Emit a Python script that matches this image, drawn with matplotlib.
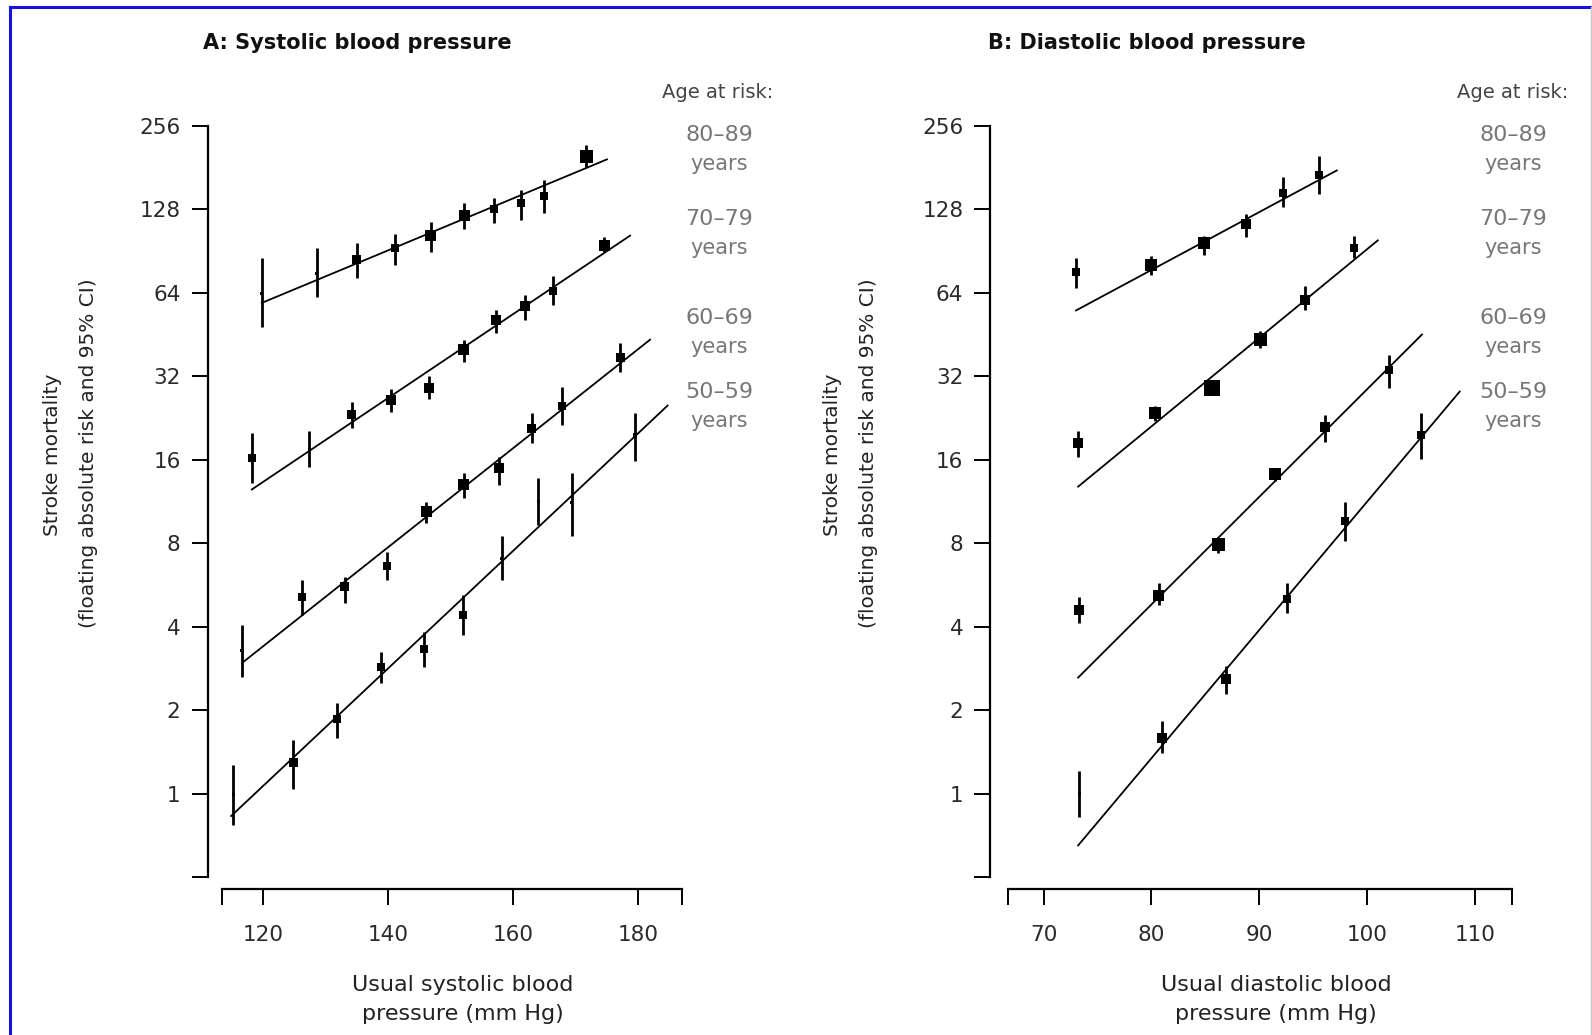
import numpy as np
import matplotlib
matplotlib.use('Agg')
import matplotlib.pyplot as plt
from matplotlib.lines import Line2D

plt.rcParams['font.family'] = ['DejaVu Sans']

# age groups (top to bottom)
ages = ['80\u201389', '70\u201379', '60\u201369', '50\u201359']

# ---------- panel A: systolic ----------
sysX = [
    [119.8, 128.6, 135.0, 141.1, 146.8, 152.2, 157.0, 161.2, 165.0, 171.7],
    [118.2, 127.4, 134.2, 140.4, 146.5, 152.1, 157.3, 161.9, 166.4, 174.6],
    [116.6, 126.2, 133.1, 139.8, 146.1, 152.1, 157.8, 163.0, 167.8, 177.1],
    [115.2, 124.8, 131.8, 138.9, 145.8, 152.0, 158.2, 164.0, 169.4, 179.5],
]
sysY = [
    [63.5, 75, 84.5, 93, 103, 122, 128, 134.5, 143, 198],
    [16.3, 17.4, 23.4, 26.2, 29.1, 40, 51.2, 57.3, 64.9, 95],
    [3.27, 5.13, 5.58, 6.6, 10.4, 13, 14.9, 20.8, 25.1, 37.5],
    [0.99, 1.29, 1.86, 2.85, 3.32, 4.41, 7.06, 11.3, 11.2, 19.7],
]
sysHi = [
    [85.6, 93, 97, 104, 115, 135, 141, 150, 163, 218],
    [20, 20.3, 25.8, 28.8, 32.2, 43.4, 55.4, 63, 73.5, 102],
    [4.06, 5.9, 6.06, 7.46, 11.3, 14.3, 16.4, 23.6, 29.4, 42.2],
    [1.27, 1.56, 2.13, 3.25, 3.84, 5.2, 8.46, 13.7, 14.3, 23.6],
]
sysLo = [
    [48.2, 62, 72.5, 80.5, 90, 109, 114, 117, 124, 182],
    [13.2, 15.1, 20.8, 23.7, 26.5, 36, 45.9, 51.2, 58, 90],
    [2.64, 4.4, 4.86, 5.9, 9.45, 11.6, 13, 18.4, 21.4, 33.1],
    [0.77, 1.04, 1.58, 2.51, 2.87, 3.73, 5.9, 9.3, 8.5, 15.8],
]
# marker size (px side), roughly proportional to weight of the point
sysSize = [
    [3, 3, 9, 8, 11, 11, 8, 8, 8, 13],
    [8, 3, 9, 10, 10, 11, 10, 10, 8, 11],
    [3, 8, 9, 8, 11, 11, 10, 9, 8, 9],
    [3, 9, 8, 8, 8, 8, 3, 3, 3, 4],
]
# fitted lines: start/end x and y
sysLineX = [[119.8, 175.0], [118.2, 178.7], [116.9, 181.9], [114.9, 184.7]]
sysLineY = [[58.9, 194], [12.5, 103], [2.99, 43.4], [0.83, 25.1]]

# ---------- panel B: diastolic ----------
diaX = [
    [73.0, 80.0, 84.9, 88.8, 92.2, 95.5],
    [73.2, 80.3, 85.6, 90.1, 94.2, 98.8],
    [73.3, 80.7, 86.2, 91.5, 96.1, 102.0],
    [73.3, 81.0, 86.9, 92.6, 98.0, 105.0],
]
diaY = [
    [76, 80.5, 97, 113.6, 147, 170],
    [18.4, 23.6, 29, 43.4, 60.5, 93],
    [4.6, 5.17, 7.9, 14.2, 21, 33.6],
    [1.0, 1.59, 2.58, 5.03, 9.65, 19.6],
]
diaHi = [
    [85.6, 86.8, 103, 123.6, 167.7, 199.5],
    [20.3, 25.1, 29, 46.5, 67.6, 103],
    [5.13, 5.74, 8.45, 15, 23.3, 38.3],
    [1.21, 1.83, 2.89, 5.74, 11.3, 23.6],
]
diaLo = [
    [66.7, 74.5, 88, 101.8, 130.7, 146],
    [16.4, 22.0, 29, 40.5, 55.7, 85.6],
    [4.11, 4.79, 7.36, 13.4, 18.6, 29],
    [0.82, 1.40, 2.28, 4.47, 8.17, 16.1],
]
diaSize = [
    [8, 12, 12, 10, 8, 8],
    [10, 12, 16, 13, 10, 8],
    [10, 11, 13, 12, 10, 8],
    [3, 10, 10, 8, 8, 8],
]
diaLineX = [[73.0, 97.2], [73.2, 101.0], [73.2, 105.1], [73.2, 108.6]]
diaLineY = [[55.3, 177], [12.8, 99], [2.62, 45.3], [0.65, 28.2]]

yticks = [0.5, 1, 2, 4, 8, 16, 32, 64, 128, 256]
sysTicks = [120, 140, 160, 180]
diaTicks = [70, 80, 90, 100, 110]

W, H = 1592, 1035
fig = plt.figure(figsize=(W / 100, H / 100), dpi=100)


def px(x0, y0, x1, y1):
    return [x0 / W, 1 - y1 / H, (x1 - x0) / W, (y1 - y0) / H]


def panel(ax, xs, ys, his, los, sizes, lx, ly, xlim, xt, left_out):
    for i in range(4):
        x = np.array(xs[i]); y = np.array(ys[i])
        err = [y - np.array(los[i]), np.array(his[i]) - y]
        ax.errorbar(x, y, yerr=err, fmt='none', ecolor='black', elinewidth=2.0, capsize=0)
        ax.scatter(x, y, marker='s', s=(np.array(sizes[i]) * 0.72) ** 2, color='black',
                   linewidths=0, zorder=3)
        ax.plot(lx[i], ly[i], color='black', lw=1.3)
    ax.set_yscale('log', base=2)
    ax.set_ylim(0.5, 256)
    ax.set_xlim(*xlim)
    ax.set_yticks(yticks)
    ax.set_yticklabels([''] + [str(int(v)) for v in yticks[1:]])
    ax.minorticks_off()
    ax.set_xticks([xlim[0]] + xt + [xlim[1]])
    ax.set_xticklabels([''] + [str(v) for v in xt] + [''])
    for s in ['top', 'right']:
        ax.spines[s].set_visible(False)
    ax.spines['left'].set_position(('outward', left_out))
    ax.spines['bottom'].set_position(('outward', 8.6))
    for s in ['left', 'bottom']:
        ax.spines[s].set_linewidth(1.6)
    ax.tick_params(axis='y', length=11.5, width=1.4, pad=8, labelsize=15.5, labelcolor='#2a2a2a')
    ax.tick_params(axis='x', length=11.3, width=1.4, pad=15, labelsize=15.5, labelcolor='#2a2a2a')


axA = fig.add_axes(px(222.4, 126, 682, 877))
panel(axA, sysX, sysY, sysHi, sysLo, sysSize, sysLineX, sysLineY, (113.5, 187.0), sysTicks, 10.6)
axB = fig.add_axes(px(1008.4, 126, 1512, 877))
panel(axB, diaX, diaY, diaHi, diaLo, diaSize, diaLineX, diaLineY, (66.73, 113.45), diaTicks, 12.9)

# titles
fig.text(203 / W, 1 - 43 / H, 'A: Systolic blood pressure', fontsize=15, fontweight='bold',
         va='center', ha='left', color='#111111')
fig.text(988 / W, 1 - 43 / H, 'B: Diastolic blood pressure', fontsize=15, fontweight='bold',
         va='center', ha='left', color='#111111')

# y labels
for x1, x2 in [(52, 89), (833, 868)]:
    fig.text(x1 / W, 1 - 455 / H, 'Stroke mortality', rotation=90, fontsize=14.5,
             ha='center', va='center', color='#222222')
    fig.text(x2 / W, 1 - 453 / H, '(floating absolute risk and 95% CI)', rotation=90,
             fontsize=14.5, ha='center', va='center', color='#222222')

# x labels
for cx, t in [(463, 'systolic'), (1276, 'diastolic')]:
    fig.text(cx / W, 1 - 985 / H, 'Usual ' + t + ' blood', fontsize=16, ha='center', va='center',
             color='#222222')
    fig.text(cx / W, 1 - 1014 / H, 'pressure (mm Hg)', fontsize=16, ha='center', va='center',
             color='#222222')

# age labels
ageY = [135, 219, 318, 392]
for hx, cx in [(718, 719), (1513, 1513)]:
    fig.text(hx / W, 1 - 92 / H, 'Age at risk:', fontsize=14, ha='center', va='center',
             color='#444444')
    for a, yy in zip(ages, ageY):
        fig.text(cx / W, 1 - yy / H, a, fontsize=16, ha='center', va='center', color='#777777')
        fig.text(cx / W, 1 - (yy + 29) / H, 'years', fontsize=15, ha='center', va='center',
                 color='#777777')

# frame around the figure
fig.add_artist(Line2D([10 / W, 10 / W], [0, 1 - 7 / H], color='#1414d8', lw=2.2))
fig.add_artist(Line2D([10 / W, 1], [1 - 7 / H, 1 - 7 / H], color='#1414d8', lw=2.2))
fig.add_artist(Line2D([1591 / W, 1591 / W], [0, 1 - 7 / H], color='#c8c8c8', lw=1))

fig.savefig('out.png', dpi=100, facecolor='white')
